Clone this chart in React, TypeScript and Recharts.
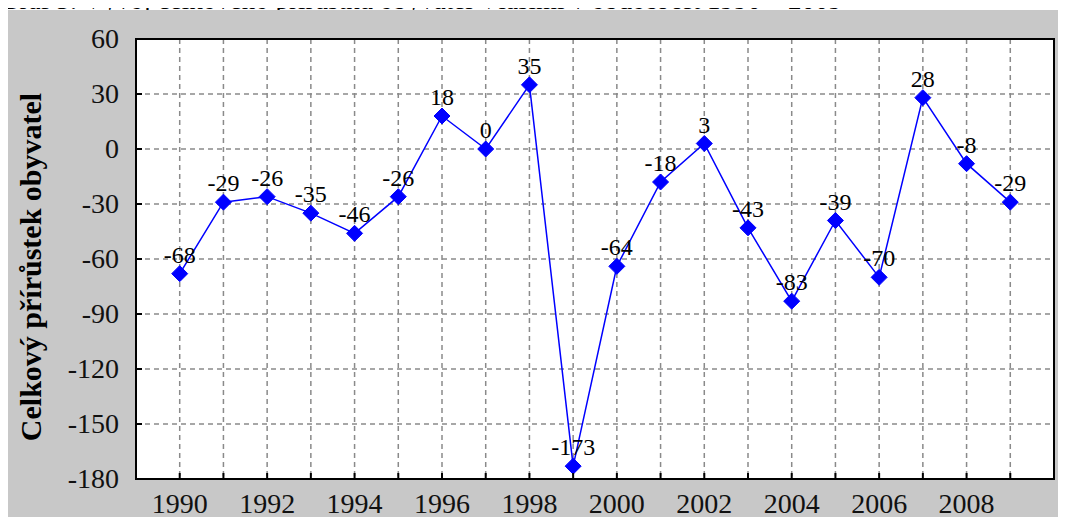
import React from 'react';
import { LineChart, Line, XAxis, YAxis, CartesianGrid, ReferenceArea, LabelList } from 'recharts';

const years = [1990, 1991, 1992, 1993, 1994, 1995, 1996, 1997, 1998, 1999, 2000, 2001, 2002, 2003, 2004, 2005, 2006, 2007, 2008, 2009];
const values = [-68, -29, -26, -35, -46, -26, 18, 0, 35, -173, -64, -18, 3, -43, -83, -39, -70, 28, -8, -29];
const yTicks = [-180, -150, -120, -90, -60, -30, 0, 30, 60];
const xTicks = years;
const title = 'Graf 5: Vývoj celkového přírůstku obyvatel Vlašimi v období let 1990 – 2009';
const yTitle = 'Celkový přírůstek obyvatel';

const data = years.map((y, i) => ({ year: y, value: values[i] }));

const FONT = '"Liberation Serif", "Times New Roman", serif';

const BottomTick = (props: any) => {
  const { x, y, payload } = props;
  const show = payload.value % 2 === 0;
  return (
    <g>
      <line x1={x} y1={y - 2} x2={x} y2={y - 8} stroke="#000" strokeWidth={2} />
      {show && (
        <text x={x} y={y + 32} textAnchor="middle" fontFamily={FONT} fontSize={28} fill="#111">
          {payload.value}
        </text>
      )}
    </g>
  );
};

const TopTick = (props: any) => {
  const { x, y } = props;
  return <line x1={x} y1={y + 2} x2={x} y2={y + 8} stroke="#000" strokeWidth={2} />;
};

const LeftTick = (props: any) => {
  const { x, y, payload } = props;
  return (
    <g>
      <line x1={x + 2} y1={y} x2={x + 8} y2={y} stroke="#000" strokeWidth={2} />
      <text x={x - 15} y={y + 9} textAnchor="end" fontFamily={FONT} fontSize={28} fill="#111">
        {payload.value}
      </text>
    </g>
  );
};

const RightTick = (props: any) => {
  const { x, y } = props;
  return <line x1={x - 2} y1={y} x2={x - 8} y2={y} stroke="#000" strokeWidth={2} />;
};

const Diamond = (props: any) => {
  const { cx, cy } = props;
  if (cx == null || cy == null) return null;
  const r = 8;
  return <polygon points={`${cx},${cy - r} ${cx + r},${cy} ${cx},${cy + r} ${cx - r},${cy}`} fill="#0000ff" stroke="#0000ff" strokeWidth={1} />;
};

export default function App() {
  return (
    <div style={{ position: 'relative', margin: -8, width: 1066, height: 525, overflow: 'hidden', background: '#fff' }}>
      <div
        style={{
          position: 'absolute',
          left: 0,
          top: -15,
          fontFamily: FONT,
          fontSize: 27,
          lineHeight: '30px',
          whiteSpace: 'nowrap',
          color: '#000',
        }}
      >
        {title}
      </div>
      <div style={{ position: 'absolute', left: 7, top: 10, width: 1059, height: 512, background: '#c8c8c8' }}>
        <LineChart width={1059} height={512} data={data} margin={{ top: 29, right: 0, left: 0, bottom: 0 }}>
          <CartesianGrid stroke="#8a8a8a" strokeWidth={1.5} strokeDasharray="5 4" fill="#ffffff" xAxisId="bottom" yAxisId="left" />
          <XAxis
            xAxisId="bottom"
            dataKey="year"
            type="number"
            domain={[1989, 2010]}
            ticks={xTicks}
            interval={0}
            height={43}
            tickLine={false}
            tickSize={0}
            axisLine={false}
            tick={<BottomTick />}
          />
          <XAxis
            xAxisId="top"
            orientation="top"
            dataKey="year"
            type="number"
            domain={[1989, 2010]}
            ticks={xTicks}
            interval={0}
            height={0}
            tickLine={false}
            tickSize={0}
            axisLine={false}
            tick={<TopTick />}
          />
          <YAxis
            yAxisId="left"
            type="number"
            domain={[-180, 60]}
            ticks={yTicks}
            interval={0}
            width={129}
            tickLine={false}
            tickSize={0}
            axisLine={false}
            tick={<LeftTick />}
            label={{
              value: yTitle,
              angle: -90,
              position: 'insideLeft',
              dx: 18,
              dy: 8,
              style: { fontFamily: FONT, fontSize: 30, fontWeight: 'bold', fill: '#000', textAnchor: 'middle' },
            }}
          />
          <YAxis
            yAxisId="right"
            orientation="right"
            type="number"
            domain={[-180, 60]}
            ticks={yTicks}
            interval={0}
            width={12}
            tickLine={false}
            tickSize={0}
            axisLine={false}
            tick={<RightTick />}
          />
          <ReferenceArea
            xAxisId="bottom"
            yAxisId="left"
            x1={1989}
            x2={2010}
            y1={-180}
            y2={60}
            fill="none"
            fillOpacity={0}
            stroke="#000"
            strokeWidth={2}
            ifOverflow="visible"
          />
          <Line
            xAxisId="bottom"
            yAxisId="left"
            type="linear"
            dataKey="value"
            stroke="#0000ff"
            strokeWidth={1.5}
            dot={<Diamond />}
            activeDot={false}
            isAnimationActive={false}
          >
            <LabelList dataKey="value" position="top" offset={11} style={{ fontFamily: FONT, fontSize: 24, fill: '#000' }} />
          </Line>
        </LineChart>
      </div>
    </div>
  );
}
